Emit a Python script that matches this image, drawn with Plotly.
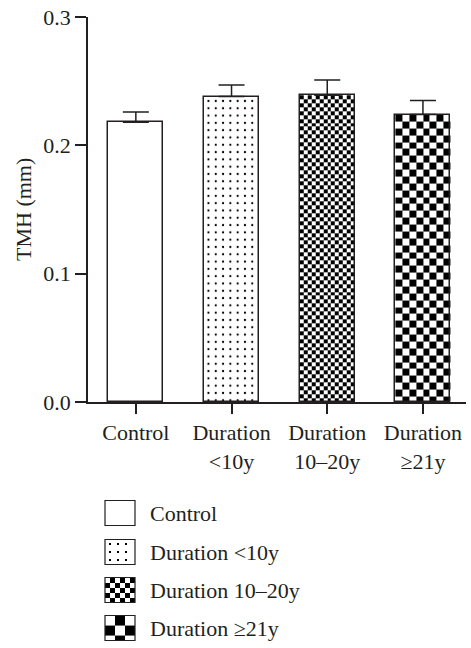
import numpy as np
import plotly.graph_objects as go

# ---- data -------------------------------------------------------------
categories = ["Control", "Duration<br>&lt;10y", "Duration<br>10\u201320y", "Duration<br>\u226521y"]
legend_labels = ["Control", "Duration &lt;10y", "Duration 10\u201320y", "Duration \u226521y"]
tmh_mean = [0.218, 0.238, 0.239, 0.224]
tmh_sem = [0.008, 0.009, 0.012, 0.011]
y_ticks = [0.0, 0.1, 0.2, 0.3]

# ---- page geometry ----------------------------------------------------
W, H = 471, 648
FONT = "Liberation Serif"
FS = 22
INK = "#231f20"

x0_px, x1_px = 88, 466          # plot area, left/right
ytop_px, ybot_px = 17, 402      # plot area, top/bottom
x_range = [-0.5, 3.45]
y_range = [0, 0.3]
bar_w = 0.575

px_per_x = (x1_px - x0_px) / (x_range[1] - x_range[0])
px_per_y = (ybot_px - ytop_px) / (y_range[1] - y_range[0])

fig = go.Figure()


def checker(xc, top, n_across, xa="x", ya="y"):
    """Black/white checkerboard filling a bar from 0 to `top`."""
    cw = bar_w / n_across
    ch = cw * px_per_x / px_per_y
    ye = list(np.arange(top, 0, -ch)[::-1])
    ye = np.array([0.0] + [v for v in ye if v > 1e-9])
    xe = np.linspace(xc - bar_w / 2, xc + bar_w / 2, n_across + 1)
    nr = len(ye) - 1
    z = [[(r + c + nr) % 2 for c in range(n_across)] for r in range(nr)]
    fig.add_trace(go.Heatmap(
        x=xe, y=ye, z=z, zmin=0, zmax=1,
        colorscale=[[0, "white"], [1, "black"]],
        showscale=False, hoverinfo="skip", xaxis=xa, yaxis=ya))


# checkerboard fills for the two longer-duration groups
checker(2, tmh_mean[2], 14)
checker(3, tmh_mean[3], 8)

fills = ["white", "white", "rgba(0,0,0,0)", "rgba(0,0,0,0)"]
for i in range(4):
    pattern = dict(shape="")
    if i == 1:
        pattern = dict(shape=".", fgcolor="black", bgcolor="white",
                       size=7.3, solidity=0.07, fillmode="replace")
    fig.add_trace(go.Bar(
        x=[i], y=[tmh_mean[i]], width=bar_w,
        marker=dict(color=fills[i], line=dict(color=INK, width=1.5), pattern=pattern),
        error_y=dict(type="data", symmetric=False, array=[tmh_sem[i]], arrayminus=[0],
                     color=INK, thickness=1.5, width=13),
        showlegend=False, hoverinfo="skip"))

fig.update_layout(
    width=W, height=H,
    margin=dict(l=0, r=0, t=0, b=0, autoexpand=False),
    paper_bgcolor="white", plot_bgcolor="rgba(0,0,0,0)",
    font=dict(family=FONT, size=FS, color=INK),
    showlegend=False, bargap=0,
    xaxis=dict(domain=[x0_px / W, x1_px / W], range=x_range,
               tickvals=[0, 1, 2, 3], ticktext=categories,
               showline=True, linecolor=INK, linewidth=1.5,
               ticks="outside", ticklen=10, tickwidth=1.5, tickcolor=INK,
               showgrid=False, zeroline=False, fixedrange=True),
    yaxis=dict(domain=[1 - ybot_px / H, 1 - ytop_px / H], range=y_range,
               tickvals=y_ticks, tickformat=".1f",
               showline=True, linecolor=INK, linewidth=1.5,
               ticks="outside", ticklen=11, tickwidth=1.5, tickcolor=INK,
               showgrid=False, zeroline=False, fixedrange=True),
    # legend panel in pixel units
    xaxis2=dict(domain=[0, 1], range=[0, W], visible=False, fixedrange=True, anchor="y2"),
    yaxis2=dict(domain=[0, 0.35], range=[H, H - 0.35 * H], visible=False, fixedrange=True,
                anchor="x2"),
)

fig.add_annotation(text="TMH (mm)", textangle=-90, x=23 / W, y=1 - 210 / H,
                   xref="paper", yref="paper", xanchor="center", yanchor="middle",
                   showarrow=False, font=dict(family=FONT, size=FS, color=INK))

# ---- legend ----------------------------------------------------------
sw_l, sw_r, sw_h = 105, 135, 25
row_y = [513, 552, 590, 628]


def sw_checker(yc, n):
    xe = np.linspace(sw_l, sw_r, n + 1)
    cell = (sw_r - sw_l) / n
    ye = np.arange(yc - sw_h / 2, yc + sw_h / 2 + 0.01, cell)
    if ye[-1] < yc + sw_h / 2 - 0.5:
        ye = np.append(ye, yc + sw_h / 2)
    ye = np.clip(ye, yc - sw_h / 2, yc + sw_h / 2)
    z = [[(r + c) % 2 for c in range(n)] for r in range(len(ye) - 1)]
    fig.add_trace(go.Heatmap(x=xe, y=ye, z=z, zmin=0, zmax=1,
                             colorscale=[[0, "white"], [1, "black"]], showscale=False,
                             hoverinfo="skip", xaxis="x2", yaxis="y2"))


sw_checker(row_y[2], 6)
sw_checker(row_y[3], 3)

# dotted swatch
dx = [sw_l + 5 + 8 * k for k in range(3)] * 3
dy = [row_y[1] - 8 + 8 * (k // 3) for k in range(9)]
fig.add_trace(go.Scatter(x=dx, y=dy, mode="markers", xaxis="x2", yaxis="y2",
                         marker=dict(symbol="square", size=2, color="black"),
                         hoverinfo="skip"))

for i, yc in enumerate(row_y):
    fig.add_shape(type="rect", xref="x2", yref="y2",
                  x0=sw_l, x1=sw_r, y0=yc - sw_h / 2, y1=yc + sw_h / 2,
                  line=dict(color=INK, width=1.2), fillcolor="rgba(0,0,0,0)")
    fig.add_annotation(text=legend_labels[i], x=148, y=yc, xref="x2", yref="y2",
                       xanchor="left", yanchor="middle", showarrow=False,
                       font=dict(family=FONT, size=FS, color=INK))

fig.write_html("out.html")
